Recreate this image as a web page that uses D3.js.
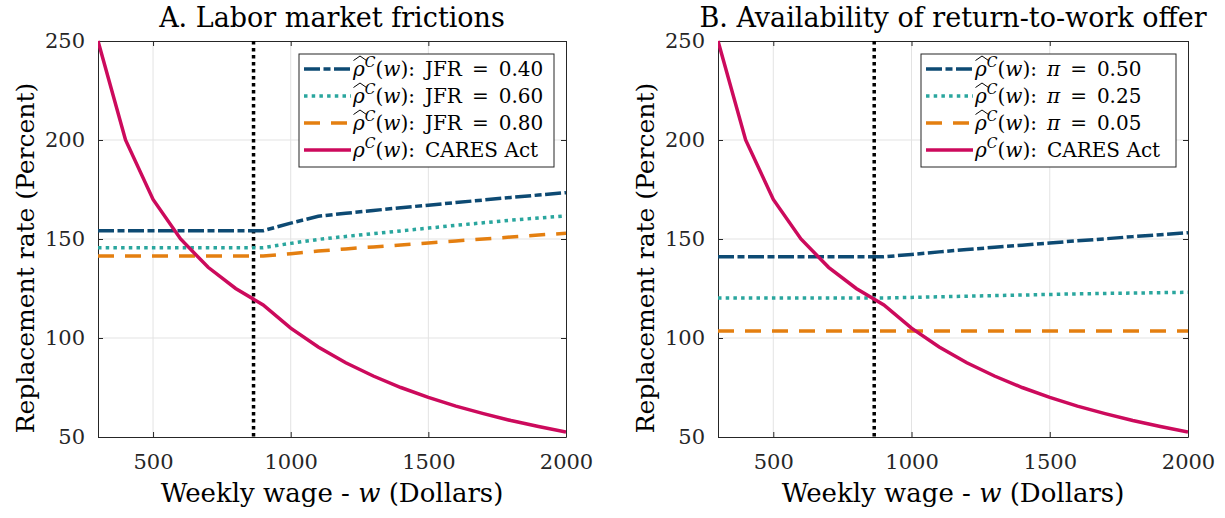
<!DOCTYPE html>
<meta charset="utf-8">
<html>
  <head>
    <script src="https://d3js.org/d3.v7.min.js"></script>
    <style>
      body { margin: 0; background: #fff; }
    </style>
  </head>
  <body>
    <div id="chart"></div>
    <script>
      // weekly wage grid (dollars)
      var wage = [300, 400, 500, 600, 700, 800, 900, 1000, 1100, 1200, 1300, 1400, 1500, 1600, 1700, 1800, 1900, 2000];

      // CARES Act replacement rate (percent)
      var caresAct = [250, 200, 170, 150, 135.7, 125, 116.7, 105, 95.5, 87.5, 80.8, 75, 70, 65.6, 61.8, 58.3, 55.3, 52.5];

      // panel A: labor market frictions
      var jfr40 = [154.2, 154.2, 154.2, 154.2, 154.2, 154.2, 154.2, 158, 161.5, 163, 164.4, 165.8, 167.1, 168.4, 169.7, 171, 172.2, 173.4];
      var jfr60 = [145.6, 145.6, 145.6, 145.6, 145.6, 145.6, 145.6, 147.8, 149.8, 151.3, 152.7, 154.1, 155.5, 156.9, 158.2, 159.5, 160.6, 161.7];
      var jfr80 = [141.4, 141.4, 141.4, 141.4, 141.4, 141.4, 141.4, 142.6, 143.9, 145, 146, 147, 148, 149, 150, 151, 152, 152.9];

      // panel B: availability of return-to-work offer
      var pi50 = [141, 141, 141, 141, 141, 141, 141, 142.2, 143.5, 144.7, 145.8, 146.9, 148, 149.1, 150.1, 151.2, 152.2, 153.2];
      var pi25 = [120.2, 120.2, 120.2, 120.2, 120.2, 120.2, 120.2, 120.5, 120.8, 121.1, 121.4, 121.7, 122, 122.3, 122.5, 122.7, 122.9, 123.1];
      var pi05 = [103.5, 103.5, 103.5, 103.5, 103.5, 103.5, 103.5, 103.5, 103.5, 103.5, 103.5, 103.5, 103.5, 103.5, 103.5, 103.5, 103.5, 103.5];

      var medianWage = 865;
      var xTicks = [500, 1000, 1500, 2000];
      var yTicks = [50, 100, 150, 200, 250];

      var FONT = "DejaVu Serif";
      var blue = "#0d4a73", teal = "#2aa69e", orange = "#e47f10", pink = "#cc0a5c";
      var styles = [
        {color: blue, dash: "16,3.5,7,3.5"},
        {color: teal, dash: "3.5,4.2"},
        {color: orange, dash: "16,11"},
        {color: pink, dash: null}
      ];

      var width = 1225, height = 518;
      var svg = d3.select("#chart").append("svg")
          .attr("width", width)
          .attr("height", height);

      function drawPanel(opts) {
        var x = d3.scaleLinear().domain([300, 2000]).range([opts.left, opts.right]);
        var y = d3.scaleLinear().domain([50, 250]).range([437, 41]);
        var g = svg.append("g");

        g.append("clipPath").attr("id", opts.id + "-clip")
          .append("rect")
          .attr("x", x(300)).attr("y", y(250) - 2)
          .attr("width", x(2000) - x(300)).attr("height", y(50) - y(250) + 4);

        // grid
        g.selectAll(".vgrid").data([500, 1000, 1500]).enter().append("line")
          .attr("x1", function(d) { return x(d); }).attr("x2", function(d) { return x(d); })
          .attr("y1", y(50)).attr("y2", y(250))
          .attr("stroke", "#e3e3e3").attr("stroke-width", 1);
        g.selectAll(".hgrid").data([100, 150, 200]).enter().append("line")
          .attr("y1", function(d) { return y(d); }).attr("y2", function(d) { return y(d); })
          .attr("x1", x(300)).attr("x2", x(2000))
          .attr("stroke", "#e3e3e3").attr("stroke-width", 1);

        // axes (box, ticks inside)
        var fmt = d3.format("d");
        var xb = d3.axisBottom(x).tickValues(xTicks).tickSizeInner(-5).tickSizeOuter(0).tickPadding(17).tickFormat(fmt);
        var xt = d3.axisTop(x).tickValues(xTicks).tickSizeInner(-5).tickSizeOuter(0).tickFormat("");
        var yl = d3.axisLeft(y).tickValues(yTicks).tickSizeInner(-5).tickSizeOuter(0).tickPadding(13).tickFormat(fmt);
        var yr = d3.axisRight(y).tickValues(yTicks).tickSizeInner(-5).tickSizeOuter(0).tickFormat("");

        var axes = [
          g.append("g").attr("transform", "translate(0," + y(50) + ")").call(xb),
          g.append("g").attr("transform", "translate(0," + y(250) + ")").call(xt),
          g.append("g").attr("transform", "translate(" + x(300) + ",0)").call(yl),
          g.append("g").attr("transform", "translate(" + x(2000) + ",0)").call(yr)
        ];
        axes.forEach(function(a) {
          a.select(".domain").attr("stroke", "#262626").attr("stroke-width", 1);
          a.selectAll(".tick line").attr("stroke", "#262626");
          a.selectAll("text").style("font-family", FONT).style("font-size", "21px").attr("fill", "#262626");
        });

        // median wage marker
        g.append("line")
          .attr("x1", x(medianWage)).attr("x2", x(medianWage))
          .attr("y1", y(250)).attr("y2", y(50))
          .attr("stroke", "#000").attr("stroke-width", 3.5)
          .attr("stroke-dasharray", "3.5,3.5");

        // series
        var line = d3.line()
          .x(function(d, i) { return x(wage[i]); })
          .y(function(d) { return y(d); });
        var series = opts.series.concat([caresAct]);
        var lines = g.append("g").attr("clip-path", "url(#" + opts.id + "-clip)");
        series.forEach(function(s, i) {
          lines.append("path")
            .datum(s)
            .attr("d", line)
            .attr("fill", "none")
            .attr("stroke", styles[i].color)
            .attr("stroke-width", 3.5)
            .attr("stroke-dasharray", styles[i].dash);
        });

        // legend
        var lx = opts.legendX, ly = 54, lw = 255, lh = 113;
        var leg = g.append("g");
        leg.append("rect")
          .attr("x", lx).attr("y", ly).attr("width", lw).attr("height", lh)
          .attr("fill", "#fff").attr("stroke", "#262626").attr("stroke-width", 1);
        opts.labels.forEach(function(lab, i) {
          var cy = ly + 15 + i * 27;
          leg.append("line")
            .attr("x1", lx + 5).attr("x2", lx + 52)
            .attr("y1", cy).attr("y2", cy)
            .attr("stroke", styles[i].color).attr("stroke-width", 3.5)
            .attr("stroke-dasharray", styles[i].dash);
          var tx = lx + 54;
          var t = leg.append("text")
            .attr("x", tx).attr("y", cy + 7)
            .style("font-family", FONT)
            .style("font-size", "20px");
          t.append("tspan").style("font-style", "italic").text("ρ");
          t.append("tspan").style("font-style", "italic").style("font-size", "14px").attr("dy", -9).text("C");
          t.append("tspan").attr("dy", 9).text("(");
          t.append("tspan").style("font-style", "italic").text("w");
          t.append("tspan").text("):\u2002");
          if (opts.symbol && i < 3) {
            t.append("tspan").style("font-style", "italic").text(opts.symbol);
          }
          t.append("tspan").text(lab);
          if (i < 3) {
            leg.append("path")
              .attr("d", "M" + (tx + 0.5) + "," + (cy - 8.5) + " L" + (tx + 7) + "," + (cy - 13) + " L" + (tx + 13.5) + "," + (cy - 8.5))
              .attr("fill", "none").attr("stroke", "#000").attr("stroke-width", 1);
          }
        });

        // titles
        g.append("text")
          .attr("x", (x(300) + x(2000)) / 2).attr("y", 27)
          .attr("text-anchor", "middle")
          .style("font-family", FONT)
          .style("font-size", "27px")
          .text(opts.title);

        var xl = g.append("text")
          .attr("x", (x(300) + x(2000)) / 2).attr("y", 502)
          .attr("text-anchor", "middle")
          .style("font-family", FONT)
          .style("font-size", "26px");
        xl.append("tspan").text("Weekly wage - ");
        xl.append("tspan").style("font-style", "italic").text("w");
        xl.append("tspan").text(" (Dollars)");

        g.append("text")
          .attr("transform", "translate(" + opts.ylabelX + ",258) rotate(-90)")
          .attr("text-anchor", "middle")
          .style("font-family", FONT)
          .style("font-size", "25px")
          .text("Replacement rate (Percent)");
      }

      drawPanel({
        id: "a", left: 98, right: 566, legendX: 299, ylabelX: 34,
        title: "A. Labor market frictions",
        series: [jfr40, jfr60, jfr80],
        symbol: null,
        labels: ["JFR\u2002=\u20020.40", "JFR\u2002=\u20020.60", "JFR\u2002=\u20020.80", "CARES Act"]
      });

      drawPanel({
        id: "b", left: 718, right: 1188, legendX: 921, ylabelX: 654,
        title: "B. Availability of return-to-work offer",
        series: [pi50, pi25, pi05],
        symbol: "\u03c0",
        labels: ["\u2002=\u20020.50", "\u2002=\u20020.25", "\u2002=\u20020.05", "CARES Act"]
      });
    </script>
  </body>
</html>
